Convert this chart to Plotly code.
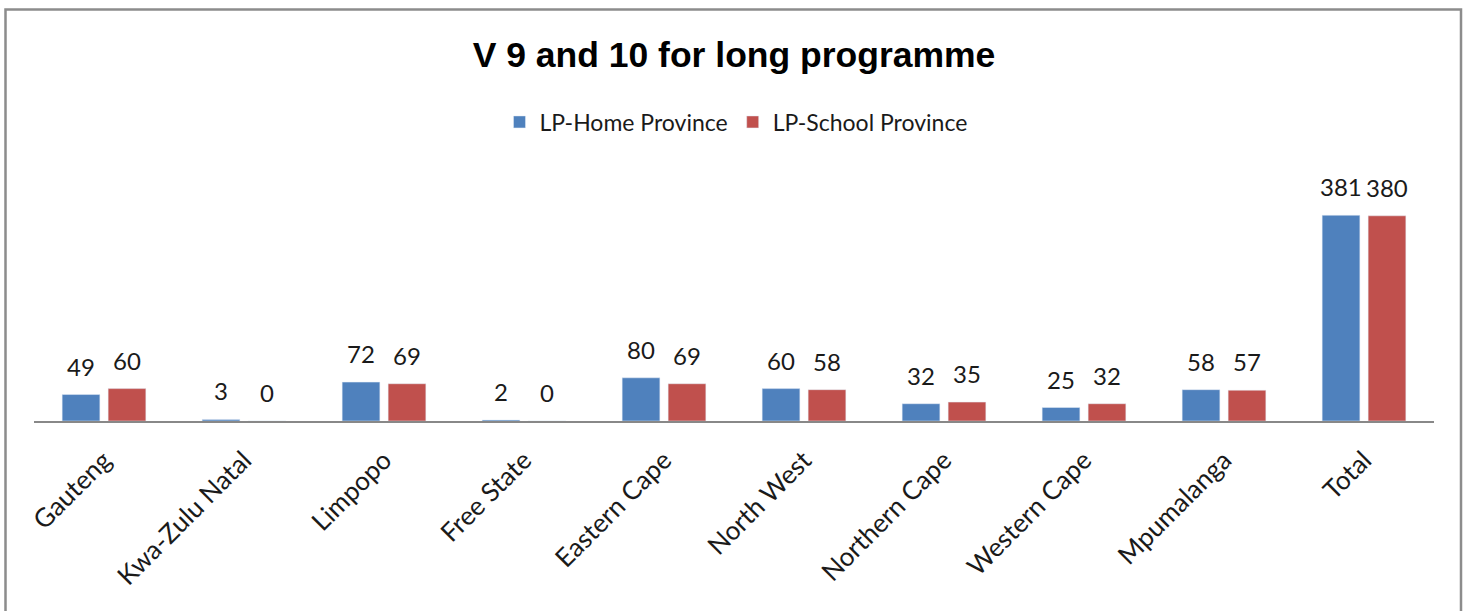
import plotly.graph_objects as go

provinces = ["Gauteng", "Kwa-Zulu Natal", "Limpopo", "Free State", "Eastern Cape",
             "North West", "Northern Cape", "Western Cape", "Mpumalanga", "Total"]
home_province = [49, 3, 72, 2, 80, 60, 32, 25, 58, 381]
school_province = [60, 0, 69, 0, 69, 58, 35, 32, 57, 380]

label_font = dict(family="Lato, Carlito, Calibri, sans-serif", size=24, color="#1a1a1a")
legend_font = dict(family="Lato, Carlito, Calibri, sans-serif", size=23, color="#1a1a1a")
tick_font = dict(family="Lato, Carlito, Calibri, sans-serif", size=26, color="#1a1a1a")

fig = go.Figure()
fig.add_trace(go.Bar(x=provinces, y=home_province, name="LP-Home Province",
                     marker_color="#4F81BD"))
fig.add_trace(go.Bar(x=provinces, y=school_province, name="LP-School Province",
                     marker_color="#C0504D"))

# value labels above each bar (shifted left/right onto their bar of the pair)
for series, shift in ((home_province, -23), (school_province, 23)):
    for cat, val in zip(provinces, series):
        fig.add_annotation(x=cat, y=val, text=str(val), showarrow=False,
                           xshift=shift, yshift=12, yanchor="bottom", font=label_font)

# plot area: x 34..1434, y 205..421 in pixels
L, R, T, B = 34, 35, 205, 190
W, H = 1469 - L - R, 611 - T - B

fig.update_layout(
    width=1469, height=611,
    margin=dict(l=L, r=R, t=T, b=B, autoexpand=False),
    paper_bgcolor="white", plot_bgcolor="white",
    barmode="group", bargap=0.343, bargroupgap=0.18,
    title=dict(text="<b>V 9 and 10 for long programme</b>",
               font=dict(family="Liberation Sans, Arial, sans-serif", size=35.5, color="black"),
               x=(734 - L) / W, xref="paper", xanchor="center",
               y=1 - 55 / 611, yanchor="middle"),
    legend=dict(orientation="h", x=(736 - L) / W, xanchor="center",
                y=(421 - 122) / H, yanchor="middle",
                font=legend_font, itemwidth=30, traceorder="normal"),
    showlegend=True,
)
fig.update_xaxes(showline=True, linecolor="#888888", linewidth=1.5, ticks="",
                 tickangle=-45, tickfont=tick_font, showgrid=False, automargin=False,
                 ticklabelstandoff=12)
fig.update_yaxes(visible=False, range=[0, 400], showgrid=False, zeroline=False,
                 automargin=False)

# outer chart border
fig.add_shape(type="rect", xref="paper", yref="paper",
              x0=(5.5 - L) / W, x1=(1461 - L) / W,
              y0=(421 - 640) / H, y1=(421 - 9.5) / H,
              line=dict(color="#8c8c8c", width=2.5), fillcolor="rgba(0,0,0,0)", layer="below")

fig.write_html("out.html", config={"displayModeBar": False},
               post_script="document.body.style.margin='0';")
